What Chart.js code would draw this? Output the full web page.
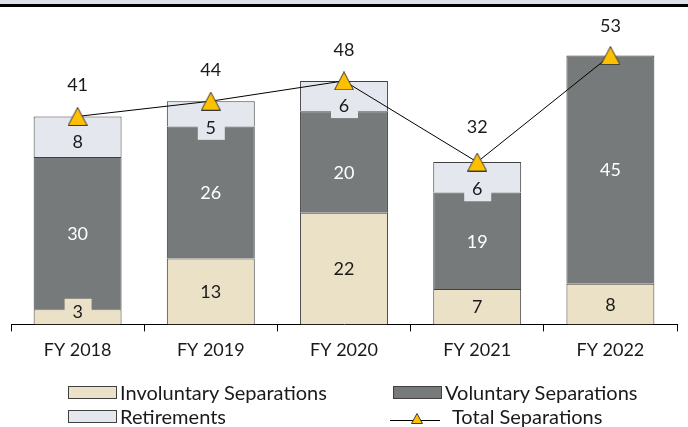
<!DOCTYPE html>
<html>
<head>
<meta charset="utf-8">
<script src="https://cdn.jsdelivr.net/npm/chart.js@4.4.1/dist/chart.umd.min.js"></script>
<style>
  body { margin: 0; background: #fff; }
  #wrap { position: relative; width: 688px; height: 427px; overflow: hidden; font-family: Lato, sans-serif; color: #1a1a1a; }
  #band { position: absolute; left: 0; top: 0; width: 688px; height: 4px; background: #dce1e8; }
  #rule { position: absolute; left: 0; top: 4px; width: 688px; height: 3px; background: #000; }
  canvas { position: absolute; left: 0; top: 0; }
  .lg { position: absolute; font-size: 20px; line-height: 22px; white-space: nowrap; }
  .sw { position: absolute; width: 47px; height: 11px; border: 1px solid #404040; }
</style>
</head>
<body>
<div id="wrap">
  <canvas id="chart" width="688" height="427"></canvas>
  <div id="band"></div>
  <div id="rule"></div>
  <div id="legend"></div>
</div>
<script>
const years = ["FY 2018", "FY 2019", "FY 2020", "FY 2021", "FY 2022"];
const involuntary = [3, 13, 22, 7, 8];
const voluntary = [30, 26, 20, 19, 45];
const retirements = [8, 5, 6, 6, 0];
const totals = [41, 44, 48, 32, 53];

// label nudges in px (Excel moved some of them by hand)
const labelNudge = [
  [-6, 0, 0, 0, 0],
  [0, 0, 10, 0, 0],
  [5, 13, 9, 11, 0]
];
const totalNudge = [0, 0, 0, -4, 2];

const tan = "#ebe1c6";
const dark = "#767a7a";
const light = "#e4e8ee";
const gold = "#ffc000";

function makeTriangle(w, h) {
  const c = document.createElement("canvas");
  c.width = w; c.height = h;
  const g = c.getContext("2d");
  g.beginPath();
  g.moveTo(w / 2, 0.5);
  g.lineTo(w - 0.5, h - 0.5);
  g.lineTo(0.5, h - 0.5);
  g.closePath();
  g.fillStyle = gold;
  g.fill();
  g.strokeStyle = "#3a3a3a";
  g.lineWidth = 1;
  g.stroke();
  return c;
}
const tri = makeTriangle(20, 19);

const labelPlugin = {
  id: "labels",
  afterDatasetsDraw(chart) {
    const ctx = chart.ctx;
    ctx.save();
    ctx.font = "18px Lato";
    ctx.textAlign = "center";
    ctx.textBaseline = "middle";
    for (let d = 0; d < 3; d++) {
      const meta = chart.getDatasetMeta(d);
      const ds = chart.data.datasets[d];
      meta.data.forEach((bar, i) => {
        const v = ds.data[i];
        if (!v) return;
        const cy = (bar.y + bar.base) / 2 + labelNudge[d][i];
        const txt = String(v);
        const boxed = d === 2 || (d === 0 && v < 5);
        if (boxed) {
          ctx.fillStyle = ds.backgroundColor;
          ctx.fillRect(bar.x - 13, cy - 12, 27, 25);
        }
        ctx.fillStyle = d === 1 ? "#ffffff" : "#1a1a1a";
        ctx.fillText(txt, bar.x, cy + 1);
      });
    }
    const lm = chart.getDatasetMeta(3);
    ctx.fillStyle = "#1a1a1a";
    lm.data.forEach((pt, i) => {
      ctx.fillText(String(totals[i]), pt.x, pt.y - 31 + totalNudge[i]);
    });
    ctx.restore();
  }
};

const ctx = document.getElementById("chart").getContext("2d");
new Chart(ctx, {
  type: "bar",
  data: {
    labels: years,
    datasets: [
      { label: "Involuntary Separations", data: involuntary, backgroundColor: tan, borderColor: "#404040", borderWidth: 1, order: 1 },
      { label: "Voluntary Separations", data: voluntary, backgroundColor: dark, borderColor: "#404040", borderWidth: 1, order: 1 },
      { label: "Retirements", data: retirements, backgroundColor: light, borderColor: "#404040", borderWidth: 1, order: 1 },
      { type: "line", label: "Total Separations", data: totals, yAxisID: "y2", borderColor: "#000", borderWidth: 1,
        pointStyle: tri, pointRadius: 10, order: 0 }
    ]
  },
  options: {
    responsive: false,
    animation: false,
    events: [],
    layout: { padding: { left: 8, right: 0, top: 20, bottom: 58 } },
    datasets: { bar: { categoryPercentage: 1, barPercentage: 0.66 } },
    scales: {
      x: {
        stacked: true,
        border: { color: "#000", width: 1 },
        grid: { offset: true, drawOnChartArea: false, color: "#000", tickLength: 7 },
        ticks: { color: "#1a1a1a", font: { family: "Lato", size: 18 }, padding: 8 }
      },
      y: { stacked: true, display: false, min: 0, max: 60 },
      y2: { display: false, min: 0, max: 60 }
    },
    plugins: { legend: { display: false }, tooltip: { enabled: false } }
  },
  plugins: [labelPlugin]
});

// legend, two rows like the Excel one
const legendItems = [
  { text: "Involuntary Separations", color: tan, x: 68, y: 386 },
  { text: "Voluntary Separations", color: dark, x: 393, y: 386 },
  { text: "Retirements", color: light, x: 68, y: 410 },
  { text: "Total Separations", line: true, x: 390, y: 410 }
];
const legend = document.getElementById("legend");
legendItems.forEach(item => {
  if (item.line) {
    const c = document.createElement("canvas");
    c.width = 50; c.height = 14;
    c.style.left = item.x + "px";
    c.style.top = (item.y + 1) + "px";
    const g = c.getContext("2d");
    g.beginPath(); g.moveTo(0, 9.5); g.lineTo(50, 9.5);
    g.strokeStyle = "#000"; g.lineWidth = 1; g.stroke();
    g.drawImage(makeTriangle(12, 11), 21, 2);
    legend.appendChild(c);
    const t = document.createElement("div");
    t.className = "lg";
    t.textContent = item.text;
    t.style.left = (item.x + 62) + "px";
    t.style.top = (item.y - 5) + "px";
    legend.appendChild(t);
  } else {
    const sw = document.createElement("div");
    sw.className = "sw";
    sw.style.background = item.color;
    sw.style.left = item.x + "px";
    sw.style.top = item.y + "px";
    legend.appendChild(sw);
    const t = document.createElement("div");
    t.className = "lg";
    t.textContent = item.text;
    t.style.left = (item.x + 52) + "px";
    t.style.top = (item.y - 5) + "px";
    legend.appendChild(t);
  }
});
</script>
</body>
</html>
